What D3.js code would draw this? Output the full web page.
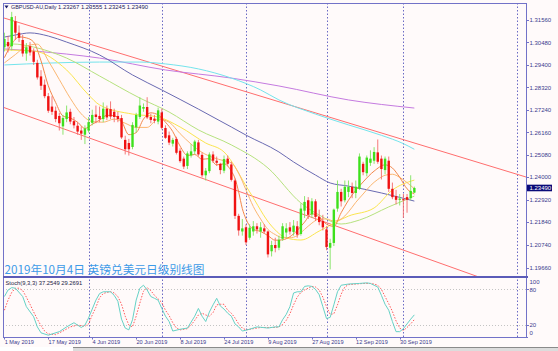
<!DOCTYPE html>
<html><head><meta charset="utf-8">
<script src="https://cdn.jsdelivr.net/npm/d3@7"></script>
<style>html,body{margin:0;padding:0;background:#fffafa;}svg{display:block;}</style>
</head><body>
<svg id="chart" width="558" height="351"></svg>
<script>
// ---------- DATA ----------
const openP  = [1.3025,1.3050,1.3030,1.3150,1.3095,1.3060,1.2995,1.3030,1.3005,1.2950,1.2885,1.2845,1.2790,1.2740,1.2720,1.2695,1.2645,1.2680,1.2715,1.2670,1.2648,1.2625,1.2605,1.2625,1.2662,1.2702,1.2695,1.2680,1.2730,1.2728,1.2715,1.2695,1.2685,1.2580,1.2565,1.2546,1.2640,1.2690,1.2730,1.2738,1.2690,1.2682,1.2668,1.2712,1.2637,1.2602,1.2562,1.2585,1.2528,1.2490,1.2455,1.2505,1.2525,1.2568,1.2508,1.2410,1.2430,1.2510,1.2480,1.2465,1.2432,1.2490,1.2462,1.2385,1.2215,1.2140,1.2160,1.2110,1.2140,1.2165,1.2140,1.2155,1.2140,1.2045,1.2075,1.2062,1.2105,1.2135,1.2160,1.2138,1.2165,1.2128,1.2240,1.2290,1.2222,1.2285,1.2210,1.2190,1.2150,1.2062,1.2085,1.2250,1.2330,1.2290,1.2330,1.2355,1.2325,1.2345,1.2465,1.2420,1.2470,1.2480,1.2520,1.2490,1.2435,1.2480,1.2345,1.2310,1.2292,1.2295,1.2305,1.2300,1.23267];
const highP  = [1.3095,1.3080,1.3195,1.3175,1.3130,1.3085,1.3045,1.3050,1.3020,1.2965,1.2915,1.2870,1.2805,1.2790,1.2740,1.2710,1.2700,1.2745,1.2730,1.2690,1.2665,1.2645,1.2650,1.2690,1.2725,1.2745,1.2740,1.2760,1.2745,1.2765,1.2730,1.2715,1.2700,1.2600,1.2585,1.2665,1.2710,1.2785,1.2755,1.2785,1.2705,1.2700,1.2735,1.2730,1.2650,1.2620,1.2590,1.2595,1.2540,1.2500,1.2525,1.2560,1.2580,1.2580,1.2520,1.2445,1.2520,1.2525,1.2500,1.2470,1.2505,1.2505,1.2475,1.2395,1.2225,1.2200,1.2175,1.2175,1.2190,1.2180,1.2185,1.2175,1.2145,1.2095,1.2110,1.2120,1.2180,1.2180,1.2185,1.2195,1.2190,1.2275,1.2310,1.2305,1.2300,1.2295,1.2245,1.2220,1.2165,1.2105,1.2250,1.2385,1.2345,1.2385,1.2385,1.2375,1.2385,1.2515,1.2475,1.2505,1.2530,1.2545,1.2582,1.2505,1.2500,1.2500,1.2375,1.2340,1.2320,1.2320,1.2320,1.2410,1.23555];
const lowP   = [1.3005,1.3000,1.3010,1.3060,1.3050,1.2980,1.2960,1.2985,1.2940,1.2870,1.2820,1.2780,1.2710,1.2700,1.2665,1.2625,1.2605,1.2665,1.2655,1.2635,1.2605,1.2580,1.2560,1.2615,1.2650,1.2660,1.2665,1.2665,1.2675,1.2680,1.2665,1.2665,1.2585,1.2510,1.2505,1.2535,1.2615,1.2680,1.2715,1.2680,1.2660,1.2660,1.2655,1.2630,1.2585,1.2555,1.2548,1.2510,1.2470,1.2440,1.2440,1.2495,1.2510,1.2500,1.2400,1.2385,1.2420,1.2470,1.2455,1.2415,1.2420,1.2455,1.2380,1.2200,1.2120,1.2120,1.2075,1.2100,1.2120,1.2130,1.2110,1.2130,1.2015,1.2020,1.2040,1.2050,1.2095,1.2110,1.2125,1.2120,1.2110,1.2120,1.2205,1.2200,1.2205,1.2190,1.2170,1.2145,1.2050,1.1958,1.2070,1.2235,1.2260,1.2280,1.2305,1.2300,1.2300,1.2340,1.2410,1.2405,1.2455,1.2465,1.2465,1.2390,1.2415,1.2330,1.2295,1.2270,1.2265,1.2205,1.2230,1.2290,1.23245];
const closeP = [1.3065,1.3030,1.3170,1.3095,1.3070,1.2995,1.3025,1.3000,1.2955,1.2880,1.2840,1.2790,1.2720,1.2715,1.2680,1.2660,1.2685,1.2712,1.2668,1.2650,1.2620,1.2610,1.2635,1.2665,1.2700,1.2690,1.2680,1.2730,1.2688,1.2692,1.2690,1.2680,1.2592,1.2535,1.2535,1.2652,1.2700,1.2745,1.2738,1.2688,1.2676,1.2672,1.2722,1.2638,1.2590,1.2567,1.2580,1.2518,1.2478,1.2452,1.2515,1.2525,1.2572,1.2510,1.2410,1.2432,1.2510,1.2480,1.2470,1.2435,1.2488,1.2465,1.2388,1.2215,1.2145,1.2155,1.2088,1.2158,1.2165,1.2150,1.2160,1.2140,1.2030,1.2075,1.2060,1.2100,1.2165,1.2155,1.2140,1.2168,1.2125,1.2250,1.2282,1.2220,1.2285,1.2210,1.2185,1.2160,1.2065,1.2085,1.2245,1.2330,1.2285,1.2355,1.2355,1.2325,1.2355,1.2500,1.2425,1.2495,1.2490,1.2522,1.2475,1.2440,1.2490,1.2345,1.2305,1.2292,1.2298,1.2290,1.2292,1.2335,1.23490];

// moving averages: [bar index, price]
const maPurple = [[0,1.3017],[8,1.3007],[26,1.2973],[44,1.2916],[62,1.2877],[75,1.2839],[94,1.2772],[112,1.2733]];
const maCyan   = [[0,1.2940],[12,1.2949],[26,1.2954],[37,1.2954],[44,1.2945],[53,1.2921],[62,1.2877],[70,1.2820],[75,1.2772],[85,1.2704],[94,1.2652],[103,1.2602],[109,1.2562],[112,1.2535]];
const maBlue   = [[0,1.3074],[3,1.3084],[7,1.3094],[12,1.3079],[17,1.3050],[26,1.2988],[35,1.2892],[43,1.2820],[53,1.2728],[62,1.2642],[66,1.2603],[75,1.2522],[79,1.2474],[85,1.2411],[89,1.2373],[94,1.2358],[103,1.2325],[112,1.2286]];
const maGreen  = [[0,1.3035],[2,1.3041],[8,1.3026],[17,1.2973],[26,1.2887],[37,1.2781],[45,1.2714],[53,1.2628],[62,1.2556],[72,1.2445],[81,1.2277],[86,1.2219],[92,1.2176],[97,1.2195],[105,1.2258],[112,1.2310]];
const maYellow = [[0,1.3012],[8,1.3007],[17,1.2916],[23,1.2796],[26,1.2748],[35,1.2704],[42,1.2690],[48,1.2642],[55,1.2565],[60,1.2522],[67,1.2330],[73,1.2166],[77,1.2109],[81,1.2099],[86,1.2142],[94,1.2214],[101,1.2253],[106,1.2339],[112,1.2387]];
const maOrange = [[0,1.2975],[2,1.3040],[4,1.3075],[6,1.3070],[8,1.3050],[10,1.2960],[12,1.2840],[14,1.2760],[16,1.2695],[18,1.2685],[20,1.2665],[22,1.2635],[24,1.2655],[26,1.2675],[28,1.2698],[30,1.2696],[32,1.2670],[34,1.2605],[36,1.2615],[38,1.2680],[40,1.2710],[42,1.2700],[44,1.2665],[46,1.2620],[48,1.2550],[50,1.2505],[52,1.2510],[54,1.2487],[56,1.2490],[58,1.2460],[60,1.2465],[62,1.2430],[63,1.2395],[64,1.2330],[65,1.2250],[66,1.2200],[68,1.2150],[70,1.2140],[72,1.2120],[74,1.2098],[76,1.2100],[78,1.2115],[80,1.2145],[82,1.2185],[84,1.2225],[86,1.2210],[88,1.2175],[90,1.2165],[92,1.2230],[94,1.2290],[98,1.2378],[101,1.2430],[104,1.2460],[106,1.2445],[108,1.2400],[110,1.2345],[112,1.2320]];
const maSand   = [[0,1.2950],[3,1.2990],[6,1.3030],[9,1.3040],[12,1.2960],[15,1.2870],[18,1.2780],[21,1.2705],[24,1.2668],[27,1.2665],[30,1.2680],[33,1.2660],[36,1.2640],[39,1.2640],[42,1.2680],[45,1.2665],[48,1.2610],[51,1.2560],[54,1.2520],[57,1.2495],[60,1.2480],[62,1.2470],[64,1.2420],[66,1.2340],[68,1.2260],[70,1.2200],[72,1.2150],[74,1.2125],[76,1.2110],[78,1.2110],[80,1.2120],[82,1.2150],[84,1.2180],[86,1.2200],[88,1.2200],[90,1.2190],[92,1.2200],[94,1.2234],[96,1.2280],[98,1.2320],[100,1.2360],[102,1.2390],[104,1.2410],[106,1.2415],[108,1.2400],[110,1.2375],[112,1.2345]];

// channel trend lines: [bar index, price]
const trendUpper = [[-0.1,1.31656],[142.5,1.24017]];
const trendLower = [[-0.3,1.27366],[142.5,1.18404]];

// stochastic (9,3,3): [bar index, value]
const stochK = [[0,68],[1,79],[2,83],[3,82],[5,68],[6,51],[8,34],[9,17],[10,7],[12,3],[15,9],[17,17],[19,24],[21,16],[22,20],[23,32],[25,62],[26,73],[27,76],[29,76],[30,70],[31,60],[32,30],[33,15],[34,12],[35,29],[36,62],[37,82],[38,87],[39,79],[40,68],[41,65],[42,62],[43,48],[44,35],[45,26],[46,10],[48,13],[50,15],[51,25],[52,35],[53,48],[54,35],[55,26],[56,42],[57,54],[58,65],[59,52],[60,47],[61,40],[62,35],[63,22],[64,17],[65,10],[67,13],[69,17],[72,15],[74,17],[75,17],[76,29],[77,38],[78,51],[79,74],[80,76],[81,76],[82,85],[83,86],[84,85],[85,80],[86,71],[87,51],[88,31],[89,33],[90,54],[91,76],[92,87],[94,89],[97,90],[99,91],[100,90],[101,87],[102,84],[103,70],[104,55],[105,45],[106,26],[107,9],[108,9],[109,14],[110,22],[111,30],[112,37.2549]];
const stochD = [[0,45],[1,62],[2,75],[3,82],[4,82],[5,78],[6,67],[7,55],[8,42],[9,30],[10,19],[11,10],[12,5],[14,4],[16,10],[18,17],[20,20],[21,19],[22,18],[23,22],[24,37],[25,50],[26,66],[27,73],[28,75],[29,76],[30,74],[31,68],[32,55],[33,35],[34,20],[35,17],[36,35],[37,57],[38,77],[39,83],[40,78],[41,70],[42,64],[43,58],[44,45],[45,36],[46,24],[47,15],[48,12],[50,14],[51,20],[52,28],[53,37],[54,40],[55,37],[56,35],[57,41],[58,54],[59,55],[60,55],[61,45],[62,40],[63,32],[64,22],[65,15],[66,12],[68,14],[70,16],[72,16],[74,16],[75,17],[76,21],[77,28],[78,39],[79,54],[80,67],[81,75],[82,79],[83,82],[84,85],[85,84],[86,79],[87,67],[88,51],[89,38],[90,39],[91,54],[92,72],[93,84],[94,88],[96,89],[98,90],[100,90],[101,89],[102,87],[103,80],[104,68],[105,56],[106,43],[107,27],[108,15],[109,11],[110,16],[111,22],[112,29.2691]];

const priceTicks = [1.31560,1.30480,1.29400,1.28320,1.27240,1.26160,1.25080,1.24000,1.22920,1.21840,1.20740,1.19660];
const stochTicks = [100,80,20,0];
const stochLevels = [80,20];
const dateTickIdx = [0,12,24,36,48,60,72,84,96,108];
const dateTickLabels = ["1 May 2019","17 May 2019","4 Jun 2019","20 Jun 2019","8 Jul 2019","24 Jul 2019","9 Aug 2019","27 Aug 2019","12 Sep 2019","30 Sep 2019"];
const separatorIdx = [23,43,66,88,109,140];
const lastPrice = 1.23490;
const headerSymbol = "GBPUSD-AU,Daily";
const headerValues = "1.23267 1.23555 1.23245 1.23490";
const stochTitle = "Stoch(9,3,3) 37.2549 29.2691";
const chartTitle = "2019年10月4日 英镑兑美元日级别线图";

// ---------- LAYOUT ----------
const L = 3, R = 526, T = 3, MB = 277, SB = 337;
const svg = d3.select("#chart");
const x = d3.scaleLinear().domain([0, 142.5]).range([4.4, 526]);
const y = d3.scaleLinear().domain([1.19660, 1.31560]).range([267.7, 20]);
const ys = d3.scaleLinear().domain([0, 100]).range([337, 277.5]);
const font = "'Liberation Sans', Arial, sans-serif";
const frameCol = "#7272c8", labelCol = "#3b3b8e";

svg.append("rect").attr("width",558).attr("height",351).attr("fill","#fffafa");

const defs = svg.append("defs");
defs.append("clipPath").attr("id","clipMain").append("rect").attr("x",L).attr("y",T).attr("width",R-L).attr("height",MB-T-1);
defs.append("clipPath").attr("id","clipStoch").append("rect").attr("x",L).attr("y",MB+1).attr("width",R-L).attr("height",SB-MB-1);

// separators (dotted verticals)
svg.append("g").selectAll("line").data(separatorIdx).join("line")
  .attr("x1",d=>Math.round(x(d))+0.5).attr("x2",d=>Math.round(x(d))+0.5)
  .attr("y1",T).attr("y2",SB+2)
  .attr("stroke","#6a6ac4").attr("stroke-width",1).attr("stroke-dasharray","1.5,2");

// stoch levels
svg.append("g").selectAll("line").data(stochLevels).join("line")
  .attr("x1",L).attr("x2",R).attr("y1",d=>Math.round(ys(d))+0.5).attr("y2",d=>Math.round(ys(d))+0.5)
  .attr("stroke","#c4c4c4").attr("stroke-dasharray","1,2");

const main = svg.append("g").attr("clip-path","url(#clipMain)");

// trend lines
const tl = d3.line().x(d=>x(d[0])).y(d=>y(d[1]));
[trendUpper, trendLower].forEach(t=>{
  main.append("path").attr("d",tl(t)).attr("fill","none").attr("stroke","#ff6e6e").attr("stroke-width",1);
});

// moving averages
const maLine = d3.line().x(d=>x(d[0])).y(d=>y(d[1])).curve(d3.curveMonotoneX);
const mas = [
  [maPurple,"#c57ae0"],[maCyan,"#74e4ec"],[maBlue,"#6a6ab2"],[maGreen,"#b6e27e"],
  [maYellow,"#fbe54e"],[maSand,"#fbb772"],[maOrange,"#f3874a"]
];
mas.forEach(([d,c])=>{
  main.append("path").attr("d",maLine(d)).attr("fill","none").attr("stroke",c).attr("stroke-width",1);
});

// candles
const bars = openP.map((o,i)=>({i,o,h:highP[i],l:lowP[i],c:closeP[i]}));
const cg = main.append("g");
cg.selectAll("line").data(bars).join("line")
  .attr("x1",d=>x(d.i)).attr("x2",d=>x(d.i))
  .attr("y1",d=>y(d.h)).attr("y2",d=>y(d.l))
  .attr("stroke",d=>d.c>=d.o?"#7fe35f":"#f46a6a").attr("stroke-width",0.9);
cg.selectAll("rect").data(bars).join("rect")
  .attr("x",d=>x(d.i)-1.2).attr("width",2.4)
  .attr("y",d=>y(Math.max(d.o,d.c)))
  .attr("height",d=>Math.max(0.9,Math.abs(y(d.o)-y(d.c))))
  .attr("fill",d=>d.c>=d.o?"#3ee01c":"#f01212");

// stochastic
const st = svg.append("g").attr("clip-path","url(#clipStoch)");
const sl = d3.line().x(d=>x(d[0])).y(d=>ys(d[1]));
st.append("path").attr("d",sl(stochD)).attr("fill","none").attr("stroke","#ff5a5a").attr("stroke-width",1).attr("stroke-dasharray","1.5,1.5");
st.append("path").attr("d",sl(stochK)).attr("fill","none").attr("stroke","#66d2c6").attr("stroke-width",1);

// frame
const fr = svg.append("g").attr("stroke",frameCol).attr("shape-rendering","crispEdges");
fr.append("line").attr("x1",L).attr("x2",R).attr("y1",T).attr("y2",T);
fr.append("line").attr("x1",L).attr("x2",L).attr("y1",T).attr("y2",SB);
fr.append("line").attr("x1",R).attr("x2",R).attr("y1",T).attr("y2",SB);
fr.append("line").attr("x1",L).attr("x2",R+2).attr("y1",SB).attr("y2",SB);
svg.append("rect").attr("x",L).attr("y",MB-1).attr("width",R-L+2).attr("height",2).attr("fill","#5b5bb8");

// price axis
const pa = svg.append("g");
pa.selectAll("line").data(priceTicks).join("line")
  .attr("x1",R).attr("x2",R+3).attr("y1",d=>Math.round(y(d))+0.5).attr("y2",d=>Math.round(y(d))+0.5)
  .attr("stroke",frameCol);
pa.selectAll("text").data(priceTicks).join("text")
  .attr("x",R+3.5).attr("y",d=>y(d)+2.1)
  .attr("font-family",font).attr("font-size",6).attr("fill",labelCol)
  .text(d=>d.toFixed(5));

// last price box
svg.append("rect").attr("x",R+1).attr("y",y(lastPrice)-3.3).attr("width",25).attr("height",6.6).attr("fill","#0a0a78");
svg.append("text").attr("x",R+3.5).attr("y",y(lastPrice)+2.1).attr("font-family",font).attr("font-size",6).attr("fill","#ffffff").text(lastPrice.toFixed(5));

// stoch axis
const sa = svg.append("g");
sa.selectAll("text").data(stochTicks).join("text")
  .attr("x",R+3.5)
  .attr("y",d=> d===100 ? ys(d)+6.2 : d===0 ? ys(d)-1.6 : ys(d)+2.1)
  .attr("font-family",font).attr("font-size",6).attr("fill",labelCol).text(d=>d);
sa.selectAll("line").data(stochLevels).join("line")
  .attr("x1",R).attr("x2",R+3).attr("y1",d=>Math.round(ys(d))+0.5).attr("y2",d=>Math.round(ys(d))+0.5).attr("stroke",frameCol);

// date axis
const da = svg.append("g");
da.selectAll("line").data(dateTickIdx).join("line")
  .attr("x1",d=>Math.round(x(d))+0.5).attr("x2",d=>Math.round(x(d))+0.5)
  .attr("y1",SB).attr("y2",SB+2.5).attr("stroke",frameCol);
da.selectAll("text").data(dateTickIdx).join("text")
  .attr("x",d=>x(d)+0.3).attr("y",343.5)
  .attr("font-family",font).attr("font-size",5.6).attr("fill",labelCol)
  .text((d,i)=>dateTickLabels[i]);

// header
svg.append("path").attr("d","M4.5,5.5 L8.5,5.5 L6.5,8.5 Z").attr("fill","#1a1a6a");
svg.append("text").attr("x",11).attr("y",9.2).attr("font-family",font).attr("font-size",5.4).attr("fill","#1a1a5a").text(headerSymbol);
svg.append("text").attr("x",58).attr("y",9.2).attr("font-family",font).attr("font-size",5.9).attr("fill","#1a1a5a").text(headerValues);
svg.append("text").attr("x",5.5).attr("y",284.8).attr("font-family",font).attr("font-size",5.8).attr("fill","#222244").text(stochTitle);

// big title
svg.append("text").attr("x",4.5).attr("y",274.3)
  .attr("font-family","'Noto Sans CJK SC', sans-serif").attr("font-size",11.7)
  .attr("fill","#3e9be8").text(chartTitle);

// window bottom strip
svg.append("rect").attr("x",0).attr("y",347).attr("width",558).attr("height",4).attr("fill","#dcdcdc");
svg.append("rect").attr("x",0).attr("y",347).attr("width",73).attr("height",4).attr("fill","#ffffff");
svg.append("line").attr("x1",73).attr("x2",558).attr("y1",347.5).attr("y2",347.5).attr("stroke","#8a8a8a");
</script>
</body></html>
